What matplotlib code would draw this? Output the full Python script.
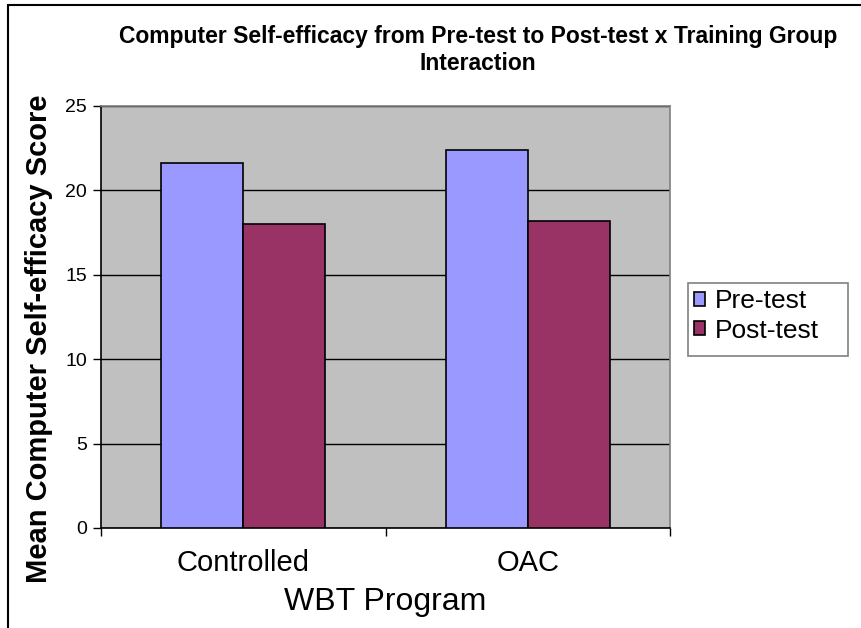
import matplotlib
matplotlib.use('Agg')
import matplotlib.pyplot as plt
from matplotlib.patches import Rectangle
import numpy as np

# data
groups = ['Controlled', 'OAC']
pre_test = [21.6, 22.4]
post_test = [18.0, 18.2]
series_names = ['Pre-test', 'Post-test']
y_ticks = [0, 5, 10, 15, 20, 25]

plt.rcParams['font.family'] = ['Liberation Sans', 'DejaVu Sans']

W, H = 861, 628
fig = plt.figure(figsize=(W / 100, H / 100), dpi=100)

# plot area in pixels (left, top, right, bottom)
L, T, R, B = 101, 106, 670, 528
ax = fig.add_axes([L / W, 1 - B / H, (R - L) / W, (B - T) / H])
ax.set_facecolor('#C0C0C0')

x = np.arange(len(groups))
bw = 0.288
b1 = ax.bar(x - bw / 2, pre_test, bw, color='#9999FF', edgecolor='black', linewidth=1.2, zorder=3)
b2 = ax.bar(x + bw / 2, post_test, bw, color='#993366', edgecolor='black', linewidth=1.2, zorder=3)

ax.set_xlim(-0.5, len(groups) - 0.5)
ax.set_ylim(0, 25)
ax.set_yticks(y_ticks)
ax.set_yticklabels([str(v) for v in y_ticks], fontsize=14)
ax.tick_params(axis='y', direction='out', length=6, width=1, pad=4)
ax.yaxis.grid(True, color='black', linewidth=1, zorder=1)
ax.set_axisbelow(True)

ax.set_xticks(x)
ax.set_xticklabels(groups, fontsize=21)
ax.tick_params(axis='x', length=0, pad=15)
ax.set_xticks(np.arange(-0.5, len(groups)), minor=True)
ax.tick_params(axis='x', which='minor', direction='out', length=6, width=1)

for s in ['left', 'bottom']:
    ax.spines[s].set_color('black')
    ax.spines[s].set_linewidth(1.2)
for s in ['top', 'right']:
    ax.spines[s].set_color('#808080')
    ax.spines[s].set_linewidth(1.2)

# titles and axis labels
fig.text(478 / W, 1 - 50 / H, 'Computer Self-efficacy from Pre-test to Post-test x Training Group\nInteraction',
         ha='center', va='center', fontsize=16.5, fontweight='bold', linespacing=1.25)
fig.text(39 / W, 1 - 339 / H, 'Mean Computer Self-efficacy Score', rotation=90,
         ha='center', va='center', fontsize=21, fontweight='bold')
fig.text((L + R) / 2 / W, 1 - 602 / H, 'WBT Program', ha='center', va='center', fontsize=23)

# legend, with its box drawn to the reference size
leg = fig.legend([b1, b2], series_names, loc='upper left',
                 bbox_to_anchor=(689 / W, 1 - 284 / H), borderaxespad=0,
                 fontsize=19, frameon=False, handlelength=0.42, handleheight=0.42,
                 handletextpad=0.35, labelspacing=0.2, borderpad=0.2)
fig.patches.append(Rectangle((688 / W, 1 - 356 / H), 160 / W, 73 / H, transform=fig.transFigure,
                             facecolor='white', edgecolor='#808080', linewidth=1.2, zorder=0))

# chart border (only left and top edges fall inside the image)
fig.patches.append(Rectangle((8 / W, -0.1), 1.2, 1.1 - 5 / H, transform=fig.transFigure,
                             fill=False, edgecolor='black', linewidth=1.5))

fig.savefig('out.png', dpi=100, facecolor='white')
